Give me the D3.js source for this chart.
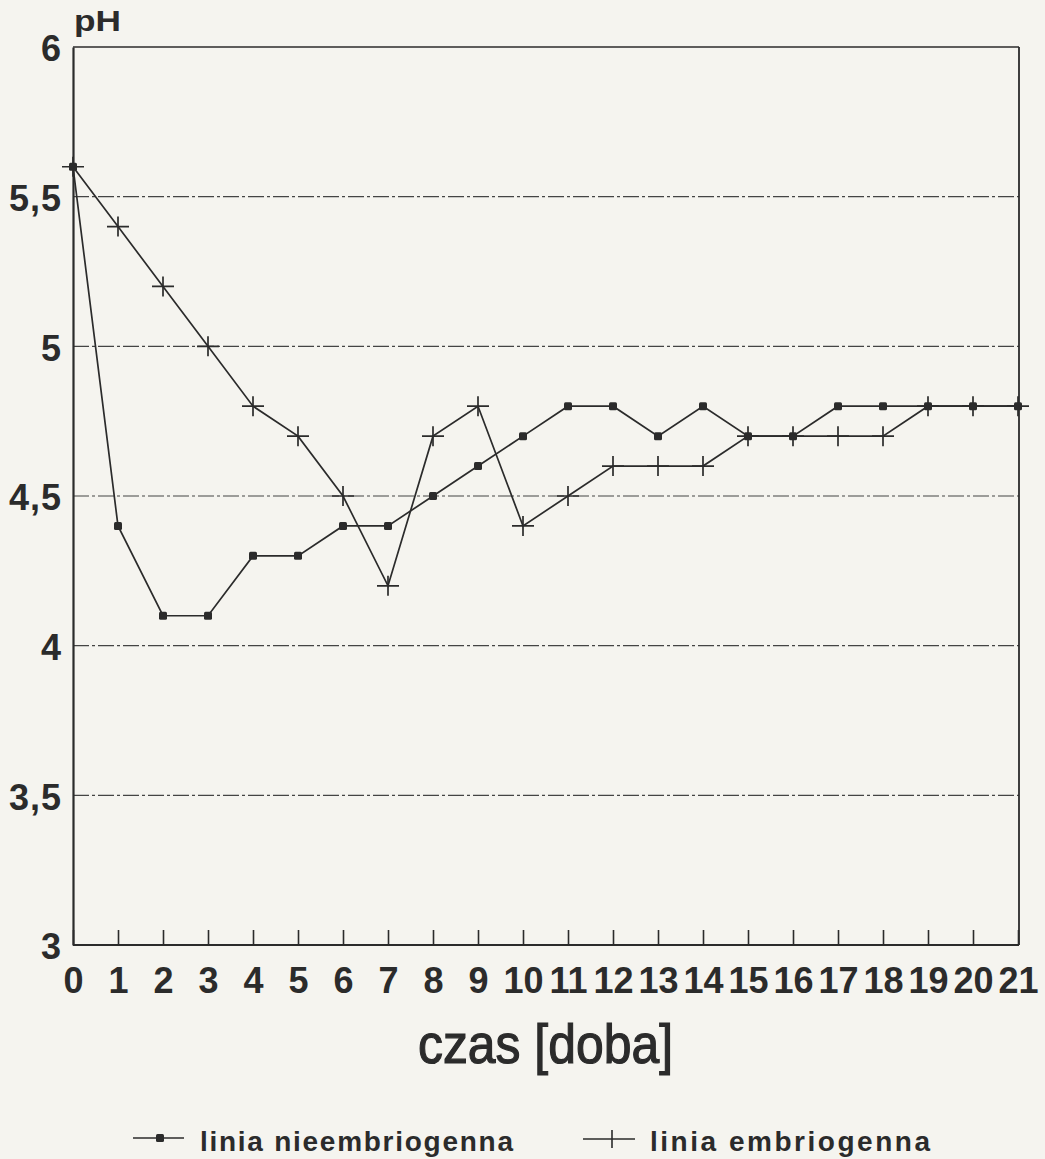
<!DOCTYPE html>
<html>

<head>
  <meta charset="utf-8">
  <title>pH - czas</title>
  <script type="text/javascript" src="https://cdn.jsdelivr.net/npm/d3@7"></script>
  <style>
    body { margin: 0; background: #f5f4ef; }
    svg { display: block; font-family: "Liberation Sans", Arial, sans-serif; }
  </style>
</head>

<body>
  <script type="text/javascript">

    // Dane
    const days = [0, 1, 2, 3, 4, 5, 6, 7, 8, 9, 10, 11, 12, 13, 14, 15, 16, 17, 18, 19, 20, 21];
    const nieembriogenna = [5.6, 4.4, 4.1, 4.1, 4.3, 4.3, 4.4, 4.4, 4.5, 4.6, 4.7, 4.8, 4.8, 4.7, 4.8, 4.7, 4.7, 4.8, 4.8, 4.8, 4.8, 4.8];
    const embriogenna = [5.6, 5.4, 5.2, 5.0, 4.8, 4.7, 4.5, 4.2, 4.7, 4.8, 4.4, 4.5, 4.6, 4.6, 4.6, 4.7, 4.7, 4.7, 4.7, 4.8, 4.8, 4.8];
    const yTicks = [3, 3.5, 4, 4.5, 5, 5.5, 6];
    const yTickLabels = ["3", "3,5", "4", "4,5", "5", "5,5", "6"];
    const gridValues = [3.5, 4, 4.5, 5, 5.5];
    const legendNames = ["linia nieembriogenna", "linia embriogenna"];

    const W = 1045, H = 1159;
    const x0 = 73, x1 = 1019, yTop = 47, yBottom = 945;
    const ink = "#2b2b2b";

    // Skale
    const xScale = d3.scaleLinear().domain([0, 21]).range([x0, x1 - 1]);
    const yScale = d3.scaleLinear().domain([3, 6]).range([yBottom, yTop]);

    const svg = d3.select("body")
      .append("svg")
      .attr("width", W)
      .attr("height", H);

    // Linie siatki (kreska-kropka)
    svg.append("g")
      .selectAll("line")
      .data(gridValues)
      .enter()
      .append("line")
      .attr("x1", x0)
      .attr("x2", x1)
      .attr("y1", function (d) { return yScale(d); })
      .attr("y2", function (d) { return yScale(d); })
      .attr("stroke", "#444")
      .attr("stroke-width", 1.2)
      .attr("stroke-dasharray", "16,3,3,3");

    // Ramka: góra i prawa strona
    svg.append("line")
      .attr("x1", x0).attr("x2", x1)
      .attr("y1", yScale(6)).attr("y2", yScale(6))
      .attr("stroke", ink).attr("stroke-width", 1.6);
    svg.append("line")
      .attr("x1", x1).attr("x2", x1)
      .attr("y1", yScale(6)).attr("y2", yScale(3))
      .attr("stroke", ink).attr("stroke-width", 1.8);

    // Oś X
    const xAxis = d3.axisBottom(xScale)
      .tickValues(days)
      .tickSizeInner(-15)
      .tickSizeOuter(0)
      .tickPadding(22);
    const gx = svg.append("g")
      .attr("transform", "translate(0," + yBottom + ")")
      .call(xAxis);
    gx.select(".domain").attr("stroke", ink).attr("stroke-width", 2).attr("d", "M" + x0 + ",0H" + x1);
    gx.selectAll(".tick line").attr("stroke", ink).attr("stroke-width", 1.6);
    gx.selectAll(".tick text")
      .attr("fill", ink)
      .attr("font-size", 36)
      .attr("font-weight", "bold")
      .attr("font-family", "'Liberation Sans', Arial, sans-serif");

    // Oś Y
    const yAxis = d3.axisLeft(yScale)
      .tickValues(yTicks)
      .tickFormat(function (d, i) { return yTickLabels[i]; })
      .tickSize(0)
      .tickPadding(11);
    const gy = svg.append("g")
      .attr("transform", "translate(" + x0 + ",0)")
      .call(yAxis);
    gy.select(".domain").attr("stroke", ink).attr("stroke-width", 2.2);
    gy.selectAll(".tick text")
      .attr("fill", ink)
      .attr("font-size", 36)
      .attr("font-weight", "bold")
      .attr("letter-spacing", 1)
      .attr("dy", "0.38em")
      .attr("font-family", "'Liberation Sans', Arial, sans-serif");

    // Opis osi
    svg.append("text")
      .attr("x", 74).attr("y", 31)
      .attr("font-size", 30).attr("font-weight", "bold")
      .attr("textLength", 47).attr("lengthAdjust", "spacingAndGlyphs")
      .attr("fill", ink)
      .text("pH");

    svg.append("text")
      .attr("x", 418).attr("y", 1063)
      .attr("font-size", 56)
      .attr("textLength", 255).attr("lengthAdjust", "spacingAndGlyphs")
      .attr("fill", ink)
      .attr("stroke", ink)
      .attr("stroke-width", 1.2)
      .text("czas [doba]");

    // Linie serii
    const line = d3.line()
      .x(function (d, i) { return xScale(days[i]); })
      .y(function (d) { return yScale(d); });

    svg.append("path")
      .datum(nieembriogenna)
      .attr("d", line)
      .attr("fill", "none")
      .attr("stroke", ink)
      .attr("stroke-width", 1.7);

    svg.append("path")
      .datum(embriogenna)
      .attr("d", line)
      .attr("fill", "none")
      .attr("stroke", ink)
      .attr("stroke-width", 1.7);

    // Znaczniki: krzyżyki (embriogenna)
    svg.append("g")
      .selectAll("path")
      .data(embriogenna)
      .enter()
      .append("path")
      .attr("transform", function (d, i) {
        return "translate(" + xScale(days[i]) + "," + yScale(d) + ")";
      })
      .attr("d", "M-11,0H11M0,-10V10")
      .attr("stroke", ink)
      .attr("stroke-width", 1.7);

    // Znaczniki: kwadraty (nieembriogenna)
    svg.append("g")
      .selectAll("rect")
      .data(nieembriogenna)
      .enter()
      .append("rect")
      .attr("x", function (d, i) { return xScale(days[i]) - 4; })
      .attr("y", function (d) { return yScale(d) - 4; })
      .attr("width", 8)
      .attr("height", 8)
      .attr("rx", 1.5)
      .attr("fill", ink);

    // Legenda
    const legend = svg.append("g");
    legend.append("line")
      .attr("x1", 133).attr("x2", 184).attr("y1", 1138).attr("y2", 1138)
      .attr("stroke", ink).attr("stroke-width", 1.6);
    legend.append("rect")
      .attr("x", 156).attr("y", 1134).attr("width", 8).attr("height", 8).attr("rx", 1.5)
      .attr("fill", ink);
    legend.append("text")
      .attr("x", 200).attr("y", 1151)
      .attr("font-size", 28).attr("font-weight", "bold")
      .attr("textLength", 313).attr("lengthAdjust", "spacing")
      .attr("fill", ink)
      .text(legendNames[0]);

    legend.append("path")
      .attr("d", "M583,1139H635M612,1130V1148")
      .attr("stroke", ink).attr("stroke-width", 1.6);
    legend.append("text")
      .attr("x", 650).attr("y", 1151)
      .attr("font-size", 28).attr("font-weight", "bold")
      .attr("textLength", 280).attr("lengthAdjust", "spacing")
      .attr("fill", ink)
      .text(legendNames[1]);
  </script>
</body>

</html>
